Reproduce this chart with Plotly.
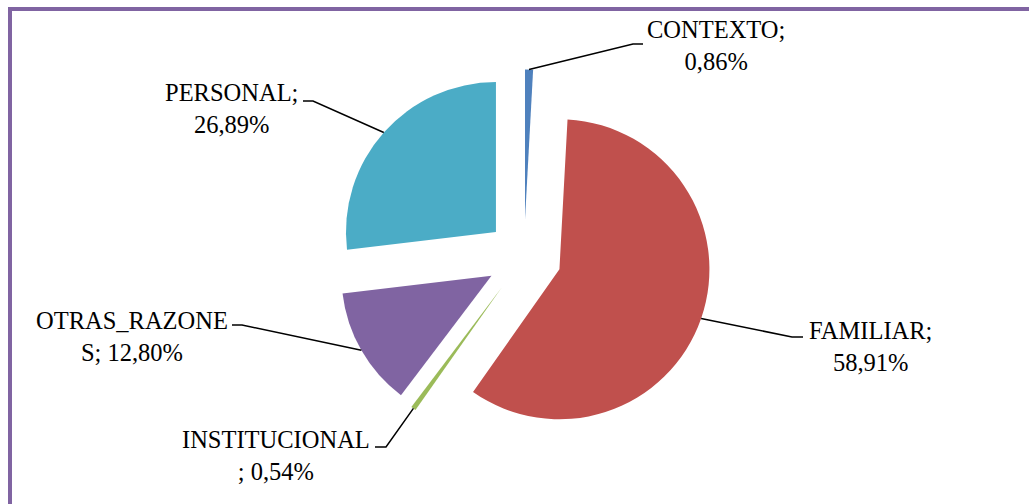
import math
import plotly.graph_objects as go

# ---- data ----
categories = ["CONTEXTO", "FAMILIAR", "INSTITUCIONAL", "OTRAS_RAZONES", "PERSONAL"]
values = [0.86, 58.91, 0.54, 12.80, 26.89]
label_texts = ["CONTEXTO;<br>0,86%", "FAMILIAR;<br>58,91%", "INSTITUCIONAL<br>; 0,54%",
               "OTRAS_RAZONE<br>S; 12,80%", "PERSONAL;<br>26,89%"]
colors = ["#4F81BD", "#C0504D", "#9BBB59", "#8064A2", "#4BACC6"]

# ---- layout constants (pixels) ----
W, H = 1029, 504
CX, CY, R, PULL = 524, 257, 150, 0.25
FRAME = "#8064A2"

half = R * (1 + PULL)
dom_x = [(CX - half) / W, (CX + half) / W]
dom_y = [1 - (CY + half) / H, 1 - (CY - half) / H]

fig = go.Figure(go.Pie(
    labels=categories, values=values, sort=False, direction="clockwise",
    rotation=0, pull=[PULL] * len(values), textinfo="none",
    marker=dict(colors=colors, line=dict(width=0)),
    domain=dict(x=dom_x, y=dom_y), showlegend=False,
))

# label block centres (pixels) and the elbow / end of each leader line
label_pos = [(716, 45), (870, 346), (276, 455), (132, 336), (231, 108)]
elbows = [((633, 44), (643, 44)), ((792, 337), (803, 337)), ((386, 447), (375, 447)),
          ((242, 325), (232, 325)), ((313, 101), (303, 101))]

def px2paper(x, y):
    return x / W, 1 - y / H

total = sum(values)
cum = 0
shapes = []
annotations = []
for v, txt, (lx, ly), (e1, e2) in zip(values, label_texts, label_pos, elbows):
    mid = (cum + v / 2) / total * 2 * math.pi
    cum += v
    dx, dy = math.sin(mid), -math.cos(mid)
    ax = CX + (R * PULL + R) * dx
    ay = CY + (R * PULL + R) * dy
    pts = [px2paper(ax, ay), px2paper(*e1), px2paper(*e2)]
    path = "M {} {} L {} {} L {} {}".format(*[c for p in pts for c in p])
    shapes.append(dict(type="path", xref="paper", yref="paper", path=path,
                       line=dict(color="black", width=1.5)))
    px, py = px2paper(lx, ly)
    annotations.append(dict(x=px, y=py, xref="paper", yref="paper", text=txt,
                            showarrow=False, xanchor="center", yanchor="middle",
                            align="center",
                            font=dict(family="Liberation Serif", size=24.5, color="black")))

# purple frame (top and left edges visible)
shapes.append(dict(type="line", xref="paper", yref="paper",
                   x0=8 / W, x1=1.0, y0=1 - 9 / H, y1=1 - 9 / H,
                   line=dict(color=FRAME, width=4)))
shapes.append(dict(type="line", xref="paper", yref="paper",
                   x0=10 / W, x1=10 / W, y0=1 - 7 / H, y1=0,
                   line=dict(color=FRAME, width=4)))

fig.update_layout(width=W, height=H, margin=dict(l=0, r=0, t=0, b=0),
                  paper_bgcolor="white", plot_bgcolor="white",
                  shapes=shapes, annotations=annotations)

fig.write_html("out.html", config={"displayModeBar": False},
               post_script="document.body.style.margin='0';")
